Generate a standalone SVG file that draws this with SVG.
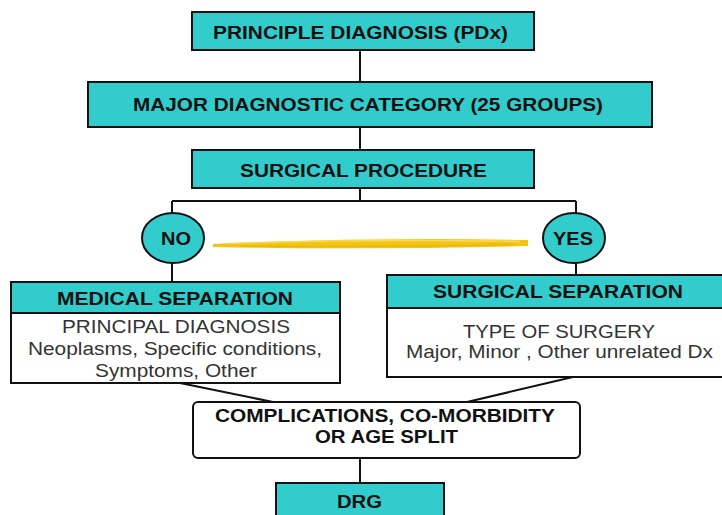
<svg xmlns="http://www.w3.org/2000/svg" width="722" height="515" viewBox="0 0 722 515">
<style>
.box{fill:#33CCCC;stroke:#111;stroke-width:2}
.wbox{fill:#fff;stroke:#111;stroke-width:2}
.t{font-family:"Liberation Sans",Arial,sans-serif;font-weight:bold;font-size:18px;fill:#111;text-anchor:middle}
.b{font-family:"Liberation Sans",Arial,sans-serif;font-size:18px;fill:#333;text-anchor:middle}
.c{stroke:#111;stroke-width:2;fill:none}
</style>
<rect width="722" height="515" fill="#fff"/>
<g id="connectors">
<path class="c" d="M360,50V82M360,127V150M360,188V201M172,201H576M172,201V213M576,201V213M172,263V282M576,263V275M180,383L273,402M573,377L467,402M360,458V483"/>
</g>
<g id="brush">
<path d="M213,244 Q370,237 528,240 L528,246 Q370,250 213,247 Z" fill="#F4C414"/>
<path d="M230,243.5 Q370,239 520,241.5" stroke="#F9DA55" stroke-width="1.5" fill="none"/>
<path d="M240,246 Q380,247.5 515,244.5" stroke="#EDB40A" stroke-width="1.2" fill="none"/>
</g>
<g id="pdx">
<rect class="box" x="192" y="12" width="342" height="38"/>
<text class="t" x="360.5" y="39" textLength="295" lengthAdjust="spacingAndGlyphs">PRINCIPLE DIAGNOSIS (PDx)</text>
</g>
<g id="mdc">
<rect class="box" x="88" y="82" width="564" height="45"/>
<text class="t" x="368" y="111" textLength="470" lengthAdjust="spacingAndGlyphs">MAJOR DIAGNOSTIC CATEGORY (25 GROUPS)</text>
</g>
<g id="surgproc">
<rect class="box" x="192" y="150" width="342" height="38"/>
<text class="t" x="363.5" y="177" textLength="247" lengthAdjust="spacingAndGlyphs">SURGICAL PROCEDURE</text>
</g>
<g id="no">
<ellipse class="box" cx="173" cy="238" rx="31" ry="25"/>
<text class="t" x="176" y="245" textLength="30" lengthAdjust="spacingAndGlyphs">NO</text>
</g>
<g id="yes">
<ellipse class="box" cx="574" cy="238" rx="31" ry="25"/>
<text class="t" x="573" y="245" textLength="40" lengthAdjust="spacingAndGlyphs">YES</text>
</g>
<g id="medical">
<rect class="wbox" x="11" y="282" width="329" height="101"/>
<rect class="box" x="11" y="282" width="329" height="31"/>
<text class="t" x="175" y="305" textLength="236" lengthAdjust="spacingAndGlyphs">MEDICAL SEPARATION</text>
<text class="b" x="176" y="333" textLength="228" lengthAdjust="spacingAndGlyphs">PRINCIPAL DIAGNOSIS</text>
<text class="b" x="175" y="355" textLength="294" lengthAdjust="spacingAndGlyphs">Neoplasms, Specific conditions,</text>
<text class="b" x="176" y="377" textLength="162" lengthAdjust="spacingAndGlyphs">Symptoms, Other</text>
</g>
<g id="surgical">
<rect class="wbox" x="387" y="275" width="345" height="102"/>
<rect class="box" x="387" y="275" width="345" height="33"/>
<text class="t" x="558" y="298" textLength="250" lengthAdjust="spacingAndGlyphs">SURGICAL SEPARATION</text>
<text class="b" x="559" y="338" textLength="192" lengthAdjust="spacingAndGlyphs">TYPE OF SURGERY</text>
<text class="b" x="559.5" y="358" textLength="307" lengthAdjust="spacingAndGlyphs">Major, Minor , Other unrelated Dx</text>
</g>
<g id="cc">
<rect class="wbox" x="193" y="402" width="387" height="56" rx="5"/>
<text class="t" x="385" y="422" textLength="340" lengthAdjust="spacingAndGlyphs">COMPLICATIONS, CO-MORBIDITY</text>
<text class="t" x="386.5" y="443" textLength="143" lengthAdjust="spacingAndGlyphs">OR AGE SPLIT</text>
</g>
<g id="drg">
<rect class="box" x="276" y="483" width="168" height="40"/>
<text class="t" x="359.5" y="508" textLength="45" lengthAdjust="spacingAndGlyphs">DRG</text>
</g>
</svg>
